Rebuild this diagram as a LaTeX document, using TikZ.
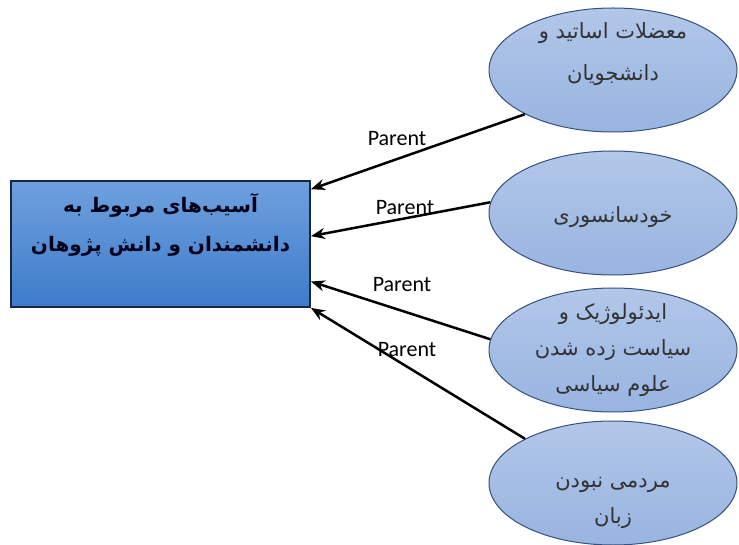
\documentclass[tikz,border=0pt]{standalone}
\usepackage{fontspec}
\setmainfont{Carlito}
\newfontfamily\farsi[Script=Arabic]{DejaVu Sans}
\TeXXeTstate=1
\usetikzlibrary{shapes.geometric,arrows.meta}
\definecolor{boxtop}{RGB}{110,160,222}
\definecolor{boxbot}{RGB}{62,124,202}
\definecolor{boxline}{RGB}{25,38,70}
\definecolor{elltop}{RGB}{178,199,233}
\definecolor{ellbot}{RGB}{152,180,224}
\definecolor{ellline}{RGB}{55,80,125}
\begin{document}
\begin{tikzpicture}[x=1pt,y=-1pt,
	asibbox/.style={draw=boxline,line width=1.8pt,top color=boxtop,bottom color=boxbot,minimum width=299pt,minimum height=126pt},
	cause/.style={ellipse,draw=ellline,line width=1pt,top color=elltop,bottom color=ellbot,minimum width=248pt,minimum height=124pt},
	ftext/.style={font=\farsi\fontsize{21}{36}\selectfont,align=center,text=black!80},
	btext/.style={font=\farsi\bfseries\fontsize{20}{39}\selectfont,align=center,text=black!90!blue},
	arr/.style={line width=2.5pt,-{Stealth[length=14pt,width=11pt]}},
	plabel/.style={font=\fontsize{22}{24}\selectfont}]
	\useasboundingbox (0,0) rectangle (739,545);
		\node[asibbox] (asib) at (160.5,244) {};
		\node[btext,yshift=19pt] (tasib) at (asib.center) {\beginR آسیب^^^^200cهای مربوط به\endR\\\beginR دانشمندان و دانش پژوهان\endR};
			\node[cause] (e1) at (613,70) {};
			\node[cause] (e2) at (613,213) {};
			\node[cause] (e3) at (613,350) {};
			\node[cause] (e4) at (613,483) {};
			\node[ftext,font=\farsi\fontsize{21}{42}\selectfont,yshift=16pt] (t1) at (e1.center) {\beginR معضلات اساتید و\endR\\\beginR دانشجویان\endR};
			\node[ftext,yshift=-4pt] (t2) at (e2.center) {\beginR خودسانسوری\endR};
			\node[ftext] (t3) at (e3.center) {\beginR ایدئولوژیک و\endR\\\beginR سیاست زده شدن\endR\\\beginR علوم سیاسی\endR};
			\node[ftext,yshift=-20pt] (t4) at (e4.center) {\beginR مردمی نبودن\endR\\\beginR زبان\endR};
				\draw[arr] (e1.south west) -- (asib.20);
				\draw[arr] (e2.175) -- (asib.3);
				\draw[arr] (e3.175) -- (asib.-14);
				\draw[arr] (e4.north west) -- (asib.south east);
					\node[plabel] (p1) at (397,139) {Parent};
					\node[plabel] (p2) at (405,208) {Parent};
					\node[plabel] (p3) at (402,285) {Parent};
					\node[plabel] (p4) at (407,350) {Parent};
\end{tikzpicture}
\end{document}
